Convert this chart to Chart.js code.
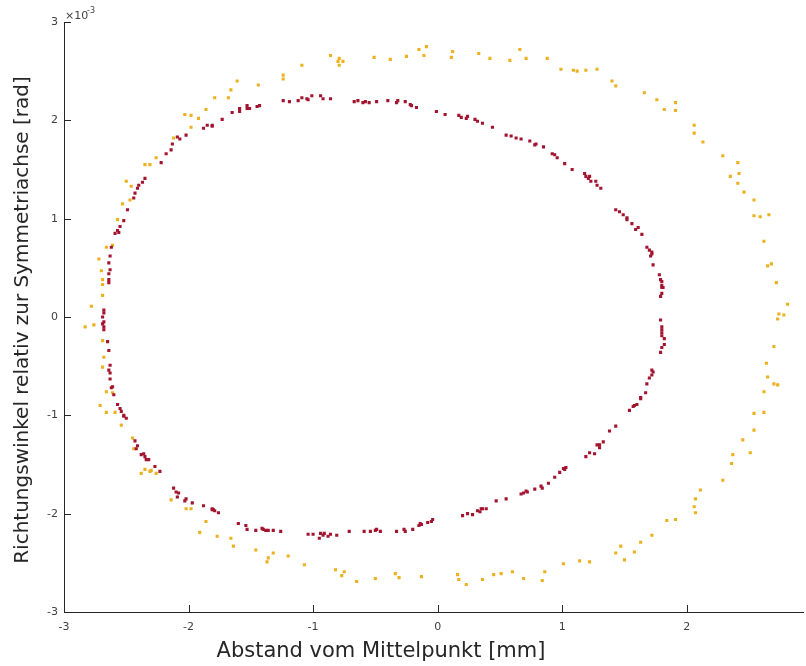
<!DOCTYPE html>
<html>
<head>
<meta charset="utf-8">
<script src="https://cdn.jsdelivr.net/npm/chart.js@4.4.1/dist/chart.umd.min.js"></script>
<style>
  body { margin: 0; background: #fff; }
  canvas { display: block; }
</style>
</head>
<body>
<canvas id="c" width="806" height="666"></canvas>
<script>
document.addEventListener('DOMContentLoaded', function () {

	'use strict';

	// tick values (y in units of 1e-3 rad)
	const xTicks = [-3, -2, -1, 0, 1, 2];
	const yTicks = [-3, -2, -1, 0, 1, 2, 3];

	// outer ring (orange)
	const outerX = [-1.24, -1.24, -1.44, -1.61, -1.66, -1.68, -1.79, -1.86, -1.92, -1.98, -2.03, -1.98, -2.12, -2.26, -2.31, -2.35, -2.46, -2.50, -2.47, -2.53, -2.57,
		-2.61, -2.66, -2.72, -2.70, -2.69, -2.69, -2.69, -2.78, -2.83, -2.76, -2.69, -2.68, -2.69, -2.66, -2.61, -2.71, -2.66, -2.59, -2.54, -2.45, -2.44,
		-2.35, -2.38, -2.30, -2.31, -2.26, -2.14, -2.02, -1.98, -1.86, -1.91, -1.77, -1.66, -1.64, -1.46,
		-1.32, -1.36, -1.37, -1.20, -1.07, -0.82, -0.75, -0.77, -0.65, -0.50, -0.34, -0.31, -0.13, 0.16, 0.17, 0.23, 0.36, 0.45, 0.51, 0.60,
		0.69, 0.84, 0.86, 1.01, 1.14, 1.22, 1.43, 1.47, 1.50, 1.58, 1.63, 1.72, 1.84, 1.91, 2.06, 2.07, 2.07, 2.11, 2.29, 2.36, 2.37, 2.45, 2.51, 2.54,
		2.54, 2.62, 2.62, 2.70, 2.73, 2.65, 2.64, 2.70, 2.73, 2.78, 2.74, 2.81, 2.72, 2.65, 2.68, 2.62, 2.54, 2.59, 2.66, 2.54,
		2.46, 2.41, 2.35, 2.42, 2.41, 2.29, 2.13, 2.06, 2.06, 1.91, 1.91, 1.82, 1.76, 1.66, 1.43, 1.40, 1.28, 1.19, 1.12, 1.09, 0.99, 0.88, 0.71, 0.66, 0.58,
		0.42, 0.33, 0.12, 0.11, -0.11, -0.09, -0.15, -0.25, -0.38, -0.51, -0.79, -0.76, -0.80, -0.79, -0.86, -1.09];
	const outerY = [2.46, 2.42, 2.36, 2.40, 2.31, 2.23, 2.23, 2.11, 2.02, 2.05, 2.06, 1.93, 1.82, 1.62, 1.55, 1.55, 1.33, 1.38, 1.19, 1.15, 0.99,
		0.73, 0.71, 0.59, 0.47, 0.38, 0.33, 0.22, 0.11, -0.10, -0.08, -0.24, -0.41, -0.51, -0.76, -0.77, -0.90, -0.97, -0.97, -1.10, -1.23, -1.34,
		-1.55, -1.59, -1.56, -1.57, -1.59, -1.86, -1.95, -1.95, -2.08, -2.19, -2.23, -2.25, -2.33, -2.37,
		-2.40, -2.45, -2.49, -2.43, -2.52, -2.57, -2.59, -2.63, -2.69, -2.66, -2.61, -2.65, -2.64, -2.62, -2.67, -2.72, -2.67, -2.62, -2.61, -2.59,
		-2.66, -2.68, -2.59, -2.51, -2.48, -2.49, -2.40, -2.33, -2.47, -2.39, -2.29, -2.22, -2.07, -2.06, -1.93, -1.99, -1.85, -1.76, -1.66, -1.49, -1.40, -1.25, -1.38, -1.15,
		-0.98, -0.97, -0.76, -0.68, -0.69, -0.61, -0.47, -0.30, -0.02, 0.02, 0.03, 0.13, 0.35, 0.52, 0.54, 0.77, 1.03, 1.02, 1.04, 1.19,
		1.27, 1.36, 1.43, 1.46, 1.57, 1.64, 1.78, 1.87, 1.95, 2.10, 2.18, 2.11, 2.21, 2.28, 2.35, 2.40, 2.52, 2.51, 2.50, 2.51, 2.52, 2.63, 2.63, 2.72, 2.61,
		2.63, 2.68, 2.70, 2.64, 2.66, 2.75, 2.72, 2.65, 2.62, 2.64, 2.56, 2.60, 2.60, 2.63, 2.66, 2.56];

	// inner ring (dark red)
	const innerX = [-1.88, -1.85, -1.81, -1.81, -1.73, -1.65, -1.59, -1.59, -1.53, -1.53, -1.51, -1.45, -1.43, -1.24, -1.19, -1.12, -1.09, -1.05, -1.04, -1.01,
		-0.94, -0.92, -0.86, -0.67, -0.64, -0.60, -0.58, -0.55, -0.49, -0.40, -0.33, -0.32, -0.26, -0.22, -0.21, -0.17, -0.01, 0.06, 0.17, 0.19, 0.23, 0.24,
		0.30, 0.32, 0.36, 0.44, 0.55, 0.59, 0.63, 0.67, 0.74, 0.79, 0.78, 0.85, 0.92, 0.94, 0.96, 1.02, 1.08, 1.18, 1.19, 1.22, 1.21, 1.23, 1.27, 1.28, 1.31,
		1.43, 1.46, 1.49, 1.52, 1.52, 1.56, 1.61, 1.59, 1.64, 1.68, 1.70, 1.72, 1.72, 1.71, 1.73, 1.78, 1.79, 1.80, 1.80, 1.80, 1.81, 1.80, 1.79,
		1.79, 1.80, 1.80, 1.80, 1.80, 1.82, 1.82, 1.80, 1.79, 1.72, 1.73, 1.72, 1.70, 1.68, 1.67, 1.63, 1.63, 1.60, 1.58, 1.57, 1.54,
		1.43, 1.38, 1.33, 1.30, 1.28, 1.30, 1.26, 1.22, 1.19, 1.03, 1.02, 1.01, 0.98, 0.94, 0.89, 0.84, 0.83, 0.78, 0.72, 0.71, 0.69, 0.67, 0.55,
		0.47, 0.39, 0.36, 0.35, 0.34, 0.32, 0.28, 0.24, 0.20, -0.04, -0.05, -0.08, -0.13, -0.14, -0.15, -0.20, -0.26, -0.27, -0.33,
		-0.46, -0.49, -0.50, -0.54, -0.59, -0.71, -0.81, -0.86, -0.88, -0.92, -0.95, -0.91, -0.94, -1.00, -1.04,
		-1.26, -1.32, -1.36, -1.38, -1.40, -1.41, -1.46, -1.53, -1.54, -1.60, -1.76, -1.79, -1.81, -1.88, -1.80, -1.81,
		-1.97, -2.03, -2.02, -2.09, -2.08, -2.10, -2.12, -2.23, -2.27, -2.32, -2.34, -2.35, -2.36, -2.38, -2.42, -2.41, -2.43,
		-2.50, -2.52, -2.52, -2.54, -2.55, -2.57, -2.60, -2.62, -2.61, -2.63, -2.63, -2.64, -2.63, -2.64, -2.65, -2.68, -2.68, -2.69, -2.68, -2.69, -2.68, -2.68,
		-2.64, -2.64, -2.64, -2.63, -2.64, -2.63, -2.62, -2.56, -2.59, -2.57, -2.55, -2.52, -2.49,
		-2.44, -2.43, -2.41, -2.40, -2.37, -2.35, -2.22, -2.18, -2.14, -2.13, -2.09, -2.07, -2.02];
	const innerY = [1.92, 1.95, 1.95, 1.94, 2.01, 2.08, 2.12, 2.09, 2.15, 2.12, 2.12, 2.14, 2.15, 2.20, 2.19, 2.20, 2.23, 2.22, 2.21, 2.25,
		2.25, 2.22, 2.22, 2.19, 2.20, 2.18, 2.19, 2.18, 2.19, 2.20, 2.18, 2.20, 2.19, 2.16, 2.15, 2.13, 2.09, 2.06, 2.05, 2.03, 2.02, 2.04,
		2.01, 1.99, 1.97, 1.93, 1.85, 1.84, 1.82, 1.81, 1.79, 1.76, 1.75, 1.73, 1.66, 1.65, 1.62, 1.56, 1.50, 1.46, 1.43, 1.43, 1.41, 1.38, 1.38, 1.34, 1.31,
		1.09, 1.07, 1.04, 1.01, 0.99, 0.95, 0.91, 0.89, 0.84, 0.71, 0.68, 0.66, 0.64, 0.62, 0.53, 0.43, 0.38, 0.36, 0.32, 0.30, 0.30, 0.24, 0.21,
		-0.03, -0.10, -0.13, -0.16, -0.19, -0.22, -0.28, -0.31, -0.36, -0.54, -0.56, -0.59, -0.62, -0.68, -0.77, -0.82, -0.83, -0.89, -0.90, -0.91, -0.95,
		-1.11, -1.16, -1.27, -1.30, -1.30, -1.33, -1.39, -1.38, -1.42, -1.53, -1.55, -1.54, -1.58, -1.63, -1.69, -1.74, -1.72, -1.75, -1.78, -1.77, -1.79, -1.80, -1.85,
		-1.87, -1.95, -1.95, -1.95, -1.98, -1.97, -2.01, -2.00, -2.02, -2.06, -2.08, -2.09, -2.11, -2.10, -2.12, -2.16, -2.18, -2.16, -2.18,
		-2.18, -2.16, -2.17, -2.18, -2.18, -2.18, -2.22, -2.21, -2.23, -2.22, -2.25, -2.20, -2.20, -2.21, -2.21,
		-2.18, -2.17, -2.17, -2.17, -2.16, -2.15, -2.17, -2.16, -2.12, -2.10, -1.99, -1.97, -1.95, -1.92, -1.96, -1.96,
		-1.89, -1.87, -1.85, -1.83, -1.79, -1.78, -1.74, -1.57, -1.52, -1.45, -1.45, -1.42, -1.39, -1.40, -1.34, -1.31, -1.26,
		-1.03, -1.01, -1.00, -0.96, -0.93, -0.89, -0.79, -0.72, -0.71, -0.63, -0.57, -0.54, -0.49, -0.34, -0.25, -0.13, -0.10, -0.07, -0.05, 0.00, 0.04, 0.07,
		0.35, 0.38, 0.44, 0.48, 0.55, 0.62, 0.71, 0.86, 0.85, 0.88, 0.92, 0.98, 1.09,
		1.21, 1.26, 1.31, 1.34, 1.37, 1.41, 1.57, 1.66, 1.70, 1.76, 1.83, 1.81, 1.85];

	const xTitle = 'Abstand vom Mittelpunkt [mm]';
	const yTitle = 'Richtungswinkel relativ zur Symmetriachse [rad]';

	const toPoints = (xs, ys) => xs.map((v, i) => ({ x: v, y: ys[i] }));

	const axisColor = '#262626';
	const fontFam = '"DejaVu Sans", "Liberation Sans", sans-serif';

	// matlab-like decorations: inward ticks, axis labels, exponent
	const decor = {
		id: 'decor',
		afterDraw(chart) {
			const ctx = chart.ctx;
			const a = chart.chartArea;
			const x = chart.scales.x, y = chart.scales.y;
			ctx.save();
			ctx.strokeStyle = axisColor;
			ctx.lineWidth = 1;
			ctx.beginPath();
			xTicks.forEach(v => {
				const px = Math.round(x.getPixelForValue(v)) + 0.5;
				ctx.moveTo(px, a.bottom);
				ctx.lineTo(px, a.bottom - 7);
			});
			yTicks.forEach(v => {
				const py = Math.round(y.getPixelForValue(v)) + 0.5;
				ctx.moveTo(a.left, py);
				ctx.lineTo(a.left + 7, py);
			});
			ctx.stroke();

			ctx.fillStyle = axisColor;
			ctx.font = '21px ' + fontFam;
			ctx.textAlign = 'center';
			ctx.textBaseline = 'alphabetic';
			ctx.fillText(xTitle, 381, 657);

			ctx.save();
			ctx.translate(28, 320);
			ctx.rotate(-Math.PI / 2);
			ctx.font = '20px ' + fontFam;
			ctx.fillText(yTitle, 0, 0);
			ctx.restore();

			// x10^-3 above the y axis
			ctx.fillStyle = '#404040';
			ctx.textAlign = 'left';
			ctx.font = '11px ' + fontFam;
			ctx.fillText('\u00d710', a.left + 1, 19);
			ctx.font = '8px ' + fontFam;
			ctx.fillText('-3', a.left + 23, 13);
			ctx.restore();
		}
	};

	new Chart(document.getElementById('c'), {
		type: 'scatter',
		data: {
			datasets: [
				{
					label: 'innen',
					data: toPoints(innerX, innerY),
					backgroundColor: '#A2142F',
					order: 0
				},
				{
					label: 'aussen',
					data: toPoints(outerX, outerY),
					backgroundColor: '#EDB120',
					order: 1
				}
			]
		},
		options: {
			responsive: false,
			animation: false,
			devicePixelRatio: 1,
			layout: { padding: { top: 22, right: 0, bottom: 0, left: 0 } },
			elements: {
				point: { pointStyle: 'rect', radius: 2.2, borderWidth: 0, hoverRadius: 2.2 }
			},
			plugins: {
				legend: { display: false },
				tooltip: { enabled: false }
			},
			scales: {
				x: {
					type: 'linear',
					min: -3,
					max: 2.94,
					afterFit: s => { s.height = 54; },
					afterBuildTicks: s => { s.ticks = xTicks.map(v => ({ value: v })); },
					grid: { display: true, drawOnChartArea: false, drawTicks: false },
					border: { display: true, color: axisColor, width: 1 },
					ticks: {
						color: '#404040',
						font: { family: fontFam, size: 11 },
						padding: 9,
						maxRotation: 0
					}
				},
				y: {
					type: 'linear',
					min: -3,
					max: 3,
					afterFit: s => { s.width = 64; },
					afterBuildTicks: s => { s.ticks = yTicks.map(v => ({ value: v })); },
					grid: { display: true, drawOnChartArea: false, drawTicks: false },
					border: { display: true, color: axisColor, width: 1 },
					ticks: {
						color: '#404040',
						font: { family: fontFam, size: 11 },
						padding: 6
					}
				}
			}
		},
		plugins: [decor]
	});

}); // DOMContentLoaded
</script>
</body>
</html>
